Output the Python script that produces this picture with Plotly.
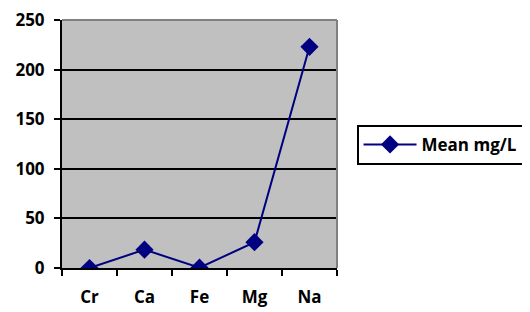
import plotly.graph_objects as go

categories = ["Cr", "Ca", "Fe", "Mg", "Na"]
mean_values = [0, 18.5, 0.3, 26, 223]
series_name = "Mean mg/L"
y_ticks = [0, 50, 100, 150, 200, 250]

font_family = "Open Sans"
navy = "#000080"

fig = go.Figure()
fig.add_trace(go.Scatter(
    x=categories, y=mean_values, mode="lines+markers", name=series_name,
    line=dict(color=navy, width=2),
    marker=dict(symbol="diamond", size=14, color=navy),
))

# page body has an 8px default margin, so the figure is offset by 8px
fig.update_layout(
    width=522, height=304,
    margin=dict(l=54, r=193, t=12, b=44, autoexpand=False),
    paper_bgcolor="white", plot_bgcolor="#C0C0C0",
    font=dict(family=font_family, size=17, color="black", weight="bold"),
    showlegend=True,
    legend=dict(
        x=1.071, y=0.577, xanchor="left", yanchor="top",
        bordercolor="black", borderwidth=2, bgcolor="white",
        itemwidth=53,
        font=dict(family=font_family, size=17, color="black", weight="bold"),
    ),
)
fig.update_xaxes(
    type="category", range=[-0.5, 4.5], automargin=False,
    showline=True, linecolor="black", linewidth=2,
    ticks="outside", tickson="boundaries", ticklen=6, tickwidth=2, tickcolor="black",
    showgrid=False, ticklabelstandoff=13, ticklabeloverflow="allow",
)
fig.update_yaxes(
    range=[0, 250], tickvals=y_ticks, automargin=False,
    showline=True, linecolor="black", linewidth=2,
    ticks="outside", ticklen=6, tickwidth=2, tickcolor="black",
    showgrid=True, gridcolor="black", gridwidth=2, zeroline=False,
    ticklabelstandoff=6, ticklabeloverflow="allow",
)
# gray frame on top/right of the plot area
fig.add_shape(type="line", xref="x domain", yref="y domain", x0=0, x1=1, y0=1, y1=1,
              line=dict(color="#808080", width=2), layer="above")
fig.add_shape(type="line", xref="x domain", yref="y domain", x0=1, x1=1, y0=0, y1=1,
              line=dict(color="#808080", width=2), layer="above")

fig.write_html("out.html")
